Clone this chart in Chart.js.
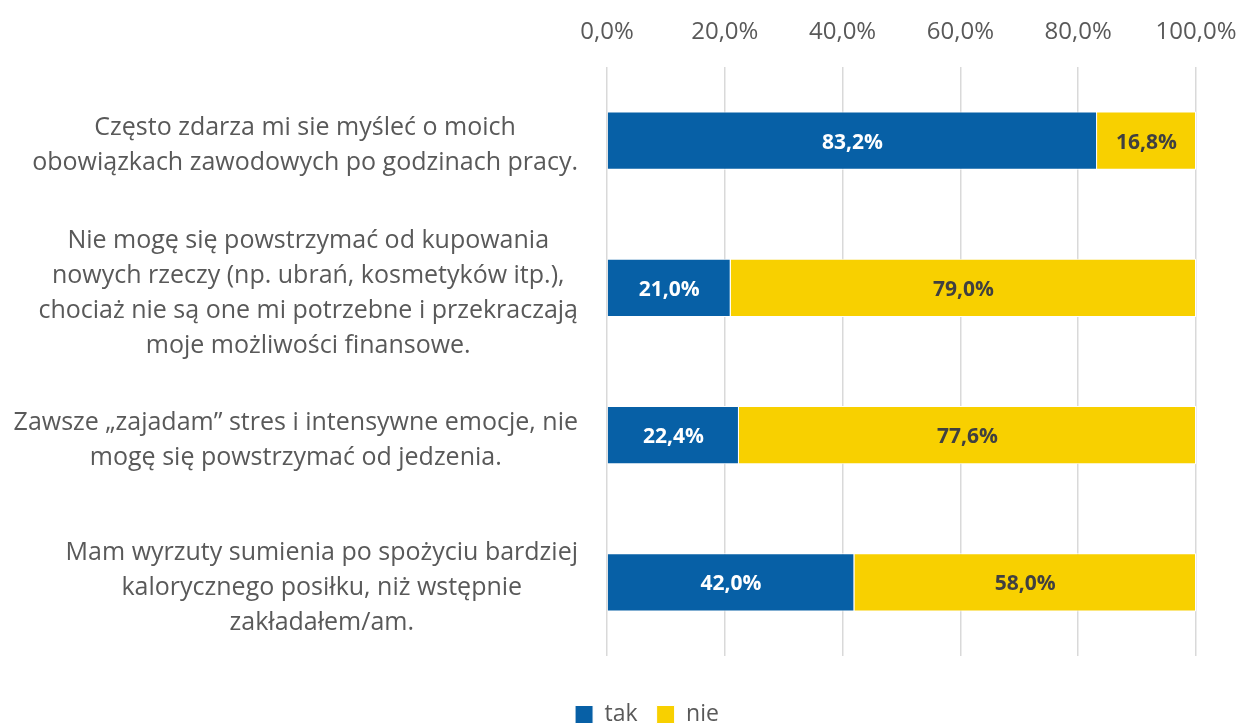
<!DOCTYPE html>
<html>
<head>
<meta charset="utf-8">
<script src="https://cdn.jsdelivr.net/npm/chart.js@4"></script>
<style>
  body { margin: 0; background: #fff; }
  #wrap { width: 1240px; height: 724px; }
</style>
</head>
<body>
<div id="wrap"><canvas id="myChart" width="1240" height="724"></canvas></div>
<script>
const categories = [
  ["Często zdarza mi sie myśleć o moich", "obowiązkach zawodowych po godzinach pracy."],
  ["Nie mogę się powstrzymać od kupowania", "nowych rzeczy (np. ubrań, kosmetyków itp.),", "chociaż nie są one mi potrzebne i przekraczają", "moje możliwości finansowe."],
  ["Zawsze „zajadam” stres i intensywne emocje, nie", "mogę się powstrzymać od jedzenia."],
  ["Mam wyrzuty sumienia po spożyciu bardziej", "kalorycznego posiłku, niż wstępnie", "zakładałem/am."]
];
const takValues = [83.2, 21.0, 22.4, 42.0];
const nieValues = [16.8, 79.0, 77.6, 58.0];
const seriesNames = ["tak", "nie"];
const tickValues = [0, 20, 40, 60, 80, 100];

const FONT = "'Open Sans', 'Noto Sans', sans-serif";
const fmt = (v) => v.toFixed(1).replace(".", ",") + "%";

// draws the multi-line category labels, each block right aligned, lines centred
const categoryLabels = {
  id: "categoryLabels",
  afterDraw(chart) {
    const { ctx, chartArea } = chart;
    const yScale = chart.scales.y;
    ctx.save();
    ctx.font = "25px " + FONT;
    ctx.fillStyle = "#595959";
    ctx.textAlign = "center";
    ctx.textBaseline = "middle";
    const lineH = 35;
    const right = chartArea.left - 29;
    categories.forEach((lines, i) => {
      const cy = yScale.getPixelForTick(i) + 5;
      const w = Math.max(...lines.map((l) => ctx.measureText(l).width));
      const cx = right - w / 2;
      const top = cy - ((lines.length - 1) * lineH) / 2;
      lines.forEach((l, j) => ctx.fillText(l, cx, top + j * lineH));
    });
    ctx.restore();
  },
};

// value labels inside the bars
const barLabels = {
  id: "barLabels",
  afterDatasetsDraw(chart) {
    const { ctx } = chart;
    ctx.save();
    ctx.font = "bold 21px " + FONT;
    ctx.textAlign = "center";
    ctx.textBaseline = "middle";
    chart.data.datasets.forEach((ds, di) => {
      const meta = chart.getDatasetMeta(di);
      meta.data.forEach((bar, i) => {
        ctx.fillStyle = di === 0 ? "#ffffff" : "#404040";
        ctx.fillText(fmt(ds.data[i]), (bar.x + bar.base) / 2, bar.y + 2);
      });
    });
    ctx.restore();
  },
};

const ctx = document.getElementById("myChart");

new Chart(ctx, {
  type: "bar",
  data: {
    labels: categories.map((c) => c.join(" ")),
    datasets: [
      {
        label: seriesNames[0],
        data: takValues,
        backgroundColor: "#0760A6",
        borderColor: "#ffffff",
        borderWidth: 1,
      },
      {
        label: seriesNames[1],
        data: nieValues,
        backgroundColor: "#F8D000",
        borderColor: "#ffffff",
        borderWidth: 1,
      },
    ],
  },
  options: {
    indexAxis: "y",
    responsive: false,
    animation: false,
    layout: { padding: { left: 54, right: 0, top: 0, bottom: -12 } },
    datasets: { bar: { categoryPercentage: 1, barPercentage: 0.395 } },
    scales: {
      x: {
        position: "top",
        stacked: true,
        min: 0,
        max: 100,
        afterBuildTicks: (scale) => {
          scale.ticks = tickValues.map((v) => ({ value: v }));
        },
        afterFit: (scale) => {
          scale.height = 67;
          scale.paddingLeft = 0;
          scale.paddingRight = 44;
        },
        ticks: {
          callback: (v) => fmt(v),
          color: "#595959",
          font: { family: FONT, size: 24 },
          padding: 20,
          maxRotation: 0,
        },
        grid: { color: "#D9D9D9", lineWidth: 1.5, drawTicks: false },
        border: { display: false },
      },
      y: {
        stacked: true,
        afterFit: (scale) => {
          scale.width = 553;
        },
        ticks: { display: false },
        grid: { display: false },
        border: { display: false },
      },
    },
    plugins: {
      legend: {
        position: "bottom",
        title: { display: true, text: "", padding: { top: 4, bottom: 0 }, font: { size: 20 } },
        labels: {
          color: "#595959",
          font: { family: FONT, size: 23 },
          boxWidth: 18,
          boxHeight: 18,
          padding: 19,
        },
      },
      tooltip: { enabled: false },
    },
  },
  plugins: [categoryLabels, barLabels],
});
</script>
</body>
</html>
